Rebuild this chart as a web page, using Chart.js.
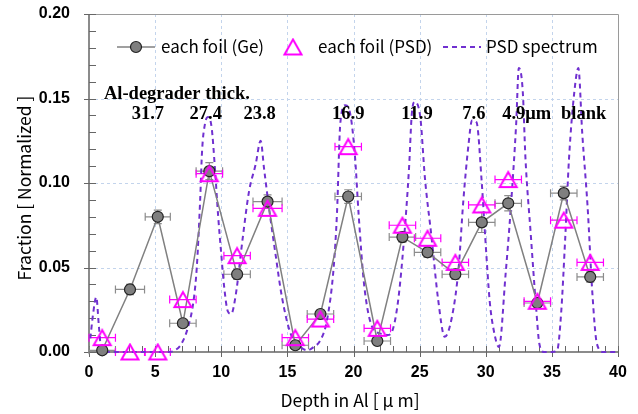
<!DOCTYPE html>
<html>
<head>
<meta charset="utf-8">
<script src="https://cdn.jsdelivr.net/npm/chart.js@4.4.0/dist/chart.umd.min.js"></script>
<style>
html, body { margin: 0; padding: 0; background: #fff; }
#wrap { width: 638px; height: 414px; }
</style>
</head>
<body>
<div id="wrap"><canvas id="chart" width="638" height="414"></canvas></div>
<script>
// Depth of each foil [um]
const depth = [1.0, 3.1, 5.2, 7.1, 9.1, 11.2, 13.5, 15.6, 17.5, 19.6, 21.8, 23.7, 25.6, 27.7, 29.7, 31.7, 33.9, 35.9, 37.9];
const depthErr = [1.0, 1.1, 0.95, 1.0, 1.0, 1.0, 1.1, 1.0, 1.0, 1.0, 1.0, 1.0, 1.0, 1.0, 1.0, 1.0, 1.0, 1.0, 1.0];
// each foil (Ge)
const geFrac = [0.001, 0.037, 0.080, 0.017, 0.107, 0.046, 0.089, 0.004, 0.0225, 0.092, 0.0065, 0.068, 0.059, 0.046, 0.0767, 0.088, 0.029, 0.094, 0.0444];
const geErr = [0.001, 0.003, 0.004, 0.002, 0.005, 0.003, 0.004, 0.002, 0.002, 0.004, 0.001, 0.003, 0.003, 0.003, 0.006, 0.0045, 0.002, 0.004, 0.003];
// each foil (PSD)
const psdFrac = [0.0085, 0.0, 0.0, 0.031, 0.1055, 0.057, 0.085, 0.0085, 0.0195, 0.1215, 0.014, 0.075, 0.0673, 0.053, 0.087, 0.102, 0.030, 0.078, 0.053];
// PSD spectrum
const specX = [0.1, 0.3, 0.55, 0.75, 0.9, 1.2, 2, 3, 4, 5, 6, 6.5, 7.0, 7.5, 7.9, 8.15, 8.4, 8.55, 8.77, 9.0, 9.27, 9.52, 9.77, 10.0, 10.2, 10.5, 10.75, 11.1, 11.6, 12.1, 12.6, 12.98, 13.23, 13.6, 14.1, 14.6, 15.24, 16.0, 16.5, 17.0, 17.5, 18.0, 18.5, 18.75, 19.0, 19.37, 19.75, 20.1, 20.4, 20.8, 21.4, 22.0, 22.6, 23.0, 23.4, 23.8, 24.2, 24.4, 24.6, 25.05, 25.4, 25.9, 26.4, 26.9, 27.45, 27.95, 28.3, 28.7, 28.96, 29.3, 29.7, 29.96, 30.3, 30.6, 31.0, 31.5, 31.9, 32.3, 32.5, 32.8, 33.0, 33.4, 33.8, 34.05, 34.4, 35.0, 35.4, 35.7, 36.0, 36.3, 36.7, 37.0, 37.3, 37.7, 38.06, 38.4, 38.9, 39.9];
const specY = [0.008, 0.022, 0.0325, 0.015, 0.003, 0.0, 0, 0, 0, 0, 0, 0.001, 0.005, 0.015, 0.030, 0.050, 0.089, 0.119, 0.135, 0.139, 0.133, 0.109, 0.080, 0.058, 0.040, 0.024, 0.0225, 0.034, 0.066, 0.095, 0.111, 0.125, 0.109, 0.086, 0.058, 0.032, 0.011, 0.003, 0.001, 0.003, 0.007, 0.019, 0.050, 0.082, 0.135, 0.146, 0.141, 0.117, 0.080, 0.040, 0.015, 0.011, 0.010, 0.014, 0.032, 0.065, 0.109, 0.140, 0.148, 0.139, 0.103, 0.068, 0.031, 0.009, 0.021, 0.050, 0.089, 0.123, 0.137, 0.136, 0.100, 0.068, 0.030, 0.013, 0.003, 0.046, 0.086, 0.135, 0.168, 0.154, 0.115, 0.070, 0.027, 0.005, 0.0, 0.0, 0.001, 0.023, 0.066, 0.115, 0.154, 0.168, 0.129, 0.086, 0.035, 0.005, 0, 0];
// Al-degrader thickness labels
const thickLabels = ['31.7', '27.4', '23.8', '16.9', '11.9', '7.6', '4.9\u03bcm', 'blank'];
const thickX = [4.45, 8.83, 12.9, 19.6, 24.8, 29.1, 33.1, 37.4];
const thickY = 0.1379;
const xTicks = [0, 5, 10, 15, 20, 25, 30, 35, 40];
const yTicks = [0, 0.05, 0.10, 0.15, 0.20];

const MAGENTA = '#FF00FF';
const PURPLE = '#7030D0';
const GRAY = '#808080';
const JP = '"Noto Sans CJK JP"';

function triangleImg() {
  const c = document.createElement('canvas');
  c.width = 22; c.height = 19;
  const g = c.getContext('2d');
  g.strokeStyle = MAGENTA; g.lineWidth = 2;
  g.beginPath(); g.moveTo(11, 2); g.lineTo(19.5, 17); g.lineTo(2.5, 17); g.closePath(); g.stroke();
  return c;
}
const tri = triangleImg();

// grid, axes, tick marks, error bars
const frame = {
  id: 'frame',
  beforeDatasetsDraw(chart) {
    const { ctx, chartArea: a, scales: { x, y } } = chart;
    ctx.save();
    ctx.strokeStyle = '#C3D4EC'; ctx.lineWidth = 1; ctx.setLineDash([3, 3]);
    xTicks.slice(1, -1).forEach(v => {
      const px = Math.round(x.getPixelForValue(v)) + 0.5;
      ctx.beginPath(); ctx.moveTo(px, a.top); ctx.lineTo(px, a.bottom); ctx.stroke();
    });
    yTicks.slice(1, -1).forEach(v => {
      const py = Math.round(y.getPixelForValue(v)) + 0.5;
      ctx.beginPath(); ctx.moveTo(a.left, py); ctx.lineTo(a.right, py); ctx.stroke();
    });
    ctx.setLineDash([]);
    // frame
    ctx.strokeStyle = '#9a9a9a'; ctx.lineWidth = 1;
    ctx.beginPath(); ctx.moveTo(a.left, a.top + 0.5); ctx.lineTo(a.right + 0.5, a.top + 0.5); ctx.lineTo(a.right + 0.5, a.bottom); ctx.stroke();
    // axes
    ctx.strokeStyle = '#666'; ctx.lineWidth = 1.5;
    ctx.beginPath(); ctx.moveTo(a.left, a.top); ctx.lineTo(a.left, a.bottom); ctx.lineTo(a.right, a.bottom); ctx.stroke();
    ctx.lineWidth = 1;
    for (let v = 0; v <= 40; v++) {
      const px = Math.round(x.getPixelForValue(v)) + 0.5;
      const major = v % 5 === 0;
      ctx.beginPath(); ctx.moveTo(px, a.bottom - 6); ctx.lineTo(px, a.bottom + (major ? 5 : 0)); ctx.stroke();
    }
    for (let i = 0; i <= 20; i++) {
      const py = Math.round(y.getPixelForValue(i / 100)) + 0.5;
      const major = i % 5 === 0;
      ctx.beginPath(); ctx.moveTo(a.left - (major ? 5 : 0), py); ctx.lineTo(a.left + 7, py); ctx.stroke();
    }
    // error bars
    const bar = (xv, yv, ex, ey, color) => {
      ctx.strokeStyle = color; ctx.lineWidth = 1.2;
      const px = x.getPixelForValue(xv), py = y.getPixelForValue(yv);
      const x1 = x.getPixelForValue(xv - ex), x2 = x.getPixelForValue(xv + ex);
      ctx.beginPath();
      ctx.moveTo(x1, py); ctx.lineTo(x2, py);
      ctx.moveTo(x1, py - 4); ctx.lineTo(x1, py + 4);
      ctx.moveTo(x2, py - 4); ctx.lineTo(x2, py + 4);
      if (ey) {
        const y1 = y.getPixelForValue(yv - ey), y2 = y.getPixelForValue(yv + ey);
        ctx.moveTo(px, y1); ctx.lineTo(px, y2);
        ctx.moveTo(px - 4, y1); ctx.lineTo(px + 4, y1);
        ctx.moveTo(px - 4, y2); ctx.lineTo(px + 4, y2);
      }
      ctx.stroke();
    };
    depth.forEach((d, i) => bar(d, geFrac[i], depthErr[i], geErr[i], '#8c8c8c'));
    depth.forEach((d, i) => bar(d, psdFrac[i], depthErr[i], 0, MAGENTA));
    ctx.restore();
  },
  afterDraw(chart) {
    const { ctx, scales: { x, y } } = chart;
    ctx.save();
    // axis titles
    ctx.fillStyle = '#000';
    ctx.font = '17.5px ' + JP;
    ctx.textAlign = 'center'; ctx.textBaseline = 'middle';
    ctx.fillText('Depth in Al [ \u03bc m]', 350, 400);
    ctx.save();
    ctx.translate(24, 188); ctx.rotate(-Math.PI / 2);
    ctx.fillText('Fraction [ Normalized ]', 0, 0);
    ctx.restore();
    // annotations
    ctx.font = 'bold 18.5px "Liberation Serif"';
    ctx.textBaseline = 'alphabetic';
    ctx.textAlign = 'left';
    ctx.fillText('Al-degrader thick.', x.getPixelForValue(1.13), y.getPixelForValue(0.150));
    ctx.textAlign = 'center';
    thickLabels.forEach((t, i) => ctx.fillText(t, x.getPixelForValue(thickX[i]), y.getPixelForValue(thickY)));
    // legend
    const ly = 47;
    ctx.font = '17px ' + JP;
    ctx.textAlign = 'left'; ctx.textBaseline = 'middle';
    ctx.strokeStyle = GRAY; ctx.lineWidth = 1.5;
    ctx.beginPath(); ctx.moveTo(117, ly); ctx.lineTo(155, ly); ctx.stroke();
    ctx.fillStyle = '#7f7f7f'; ctx.strokeStyle = '#222'; ctx.lineWidth = 1.2;
    ctx.beginPath(); ctx.arc(136, ly, 5.5, 0, Math.PI * 2); ctx.fill(); ctx.stroke();
    ctx.fillStyle = '#000';
    ctx.fillText('each foil (Ge)', 161, ly);
    ctx.drawImage(tri, 293 - 11, ly - 9.5);
    ctx.fillText('each foil (PSD)', 318, ly);
    ctx.strokeStyle = PURPLE; ctx.lineWidth = 2; ctx.setLineDash([5, 4]);
    ctx.beginPath(); ctx.moveTo(443, ly); ctx.lineTo(481, ly); ctx.stroke();
    ctx.setLineDash([]);
    ctx.fillText('PSD spectrum', 486, ly);
    ctx.restore();
  }
};

const tickFont = { family: 'Liberation Sans', weight: 'bold', size: 16 };

new Chart(document.getElementById('chart'), {
  type: 'line',
  data: {
    datasets: [{
      label: 'each foil (PSD)',
      data: depth.map((d, i) => ({ x: d, y: psdFrac[i] })),
      showLine: false,
      pointStyle: tri,
      pointRadius: 9,
      clip: false
    }, {
      label: 'each foil (Ge)',
      data: depth.map((d, i) => ({ x: d, y: geFrac[i] })),
      borderColor: GRAY,
      borderWidth: 1.5,
      pointBackgroundColor: '#7f7f7f',
      pointBorderColor: '#222',
      pointBorderWidth: 1.2,
      pointRadius: 5.5,
      tension: 0,
      clip: false
    }, {
      label: 'PSD spectrum',
      data: specX.map((v, i) => ({ x: v, y: specY[i] })),
      borderColor: PURPLE,
      borderWidth: 2,
      borderDash: [5, 4],
      pointRadius: 0,
      cubicInterpolationMode: 'monotone',
      clip: false
    }]
  },
  options: {
    responsive: false,
    animation: false,
    devicePixelRatio: 1,
    layout: { padding: { top: 14, right: 20, left: 0, bottom: 0 } },
    scales: {
      x: {
        type: 'linear', min: 0, max: 40,
        grid: { display: false, drawTicks: false },
        border: { display: false },
        ticks: { stepSize: 5, autoSkip: false, maxRotation: 0, font: tickFont, color: '#000', padding: 11 },
        afterFit(s) { s.height = 62; s.paddingLeft = 0; s.paddingRight = 0; }
      },
      y: {
        type: 'linear', min: 0, max: 0.2,
        grid: { display: false, drawTicks: false },
        border: { display: false },
        ticks: { stepSize: 0.05, font: tickFont, color: '#000', padding: 19, callback: v => v.toFixed(2) },
        afterFit(s) { s.width = 89; s.paddingTop = 0; s.paddingBottom = 0; }
      }
    },
    plugins: {
      legend: { display: false },
      tooltip: { enabled: false }
    }
  },
  plugins: [frame]
});
</script>
</body>
</html>
